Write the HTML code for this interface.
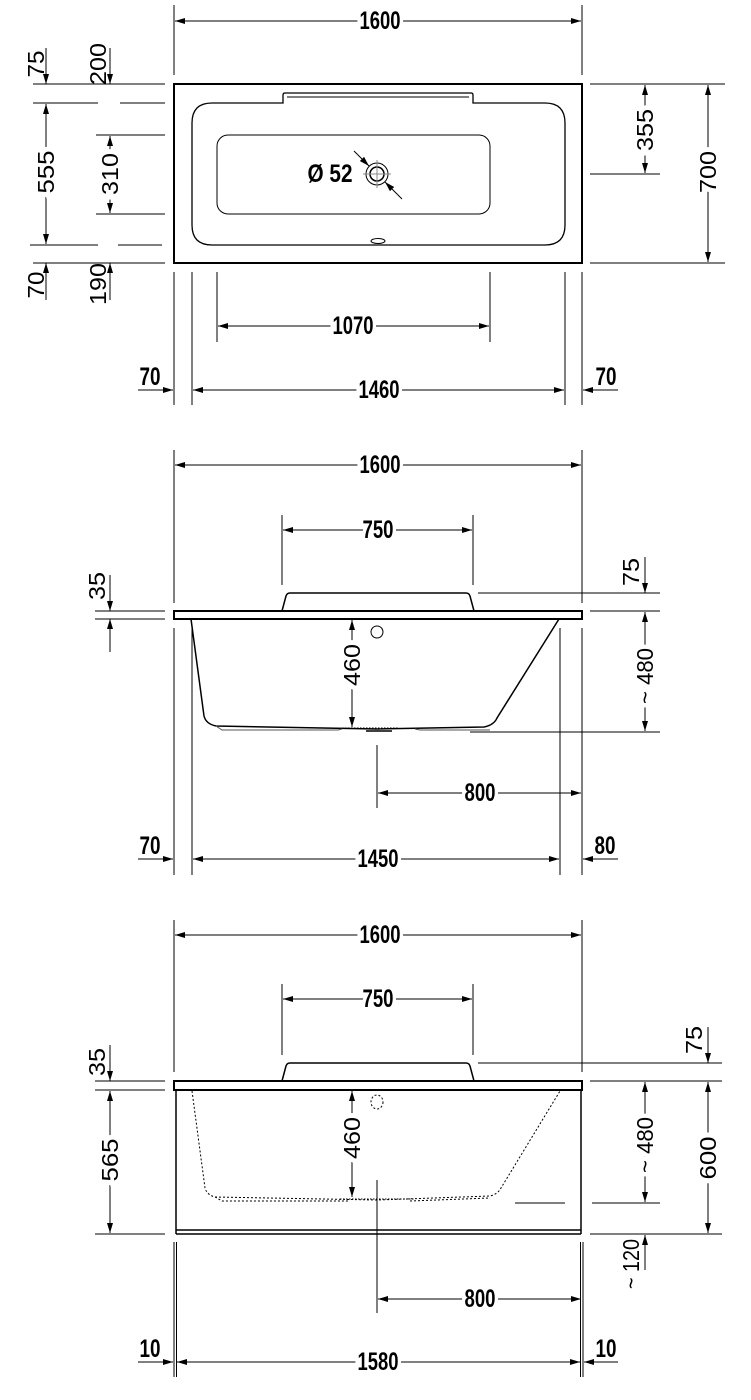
<!DOCTYPE html>
<html><head><meta charset="utf-8"><style>
html,body{margin:0;padding:0;background:#fff}
svg{display:block}
text{font-family:"Liberation Sans",sans-serif;font-size:25px;font-weight:bold;fill:#000;text-anchor:middle;dominant-baseline:central;stroke:#fff;stroke-width:9px;paint-order:stroke;}
text.r{font-size:23px;font-weight:normal}
.n{stroke:none}
</style></head><body>
<svg width="751" height="1400" viewBox="0 0 751 1400" xmlns="http://www.w3.org/2000/svg">
<defs>
<marker id="a" markerWidth="10" markerHeight="6" refX="10" refY="3" orient="auto-start-reverse" markerUnits="userSpaceOnUse"><path d="M0,0 L10,3 L0,6 Z" fill="#000"/></marker>
</defs>
<g stroke="#000" stroke-width="1" fill="none">
<line x1="174" y1="5" x2="174" y2="75"/><line x1="582" y1="5" x2="582" y2="75"/>
<line x1="175" y1="21" x2="581" y2="21" marker-start="url(#a)" marker-end="url(#a)"/>
<rect x="174" y="84" width="408" height="179" stroke-width="2"/>
<path d="M212,103 H283 V95 Q283,93 285,93 H471 Q473,93 473,95 V103 H545 Q565,103 565,123 V225 Q565,245 545,245 H212 Q192,245 192,225 V123 Q192,103 212,103 Z" stroke-width="1.3"/>
<line x1="287" y1="97" x2="469" y2="97"/>
<rect x="217" y="135" width="273" height="79" rx="11"/>
<circle cx="377" cy="174" r="11"/><circle cx="377" cy="174" r="7" stroke-width="1.5"/>
<line x1="363" y1="174" x2="391" y2="174" stroke="#888"/><line x1="377" y1="160" x2="377" y2="188" stroke="#888"/>
<line x1="354" y1="151" x2="369" y2="166" marker-end="url(#a)"/>
<line x1="402" y1="199" x2="385" y2="182" marker-end="url(#a)"/>
<ellipse cx="378" cy="241" rx="7" ry="2.5"/>
<line x1="33" y1="84" x2="165" y2="84"/>
<line x1="33" y1="103" x2="98" y2="103"/><line x1="120" y1="103" x2="165" y2="103"/>
<line x1="96" y1="135" x2="165" y2="135"/><line x1="96" y1="214" x2="165" y2="214"/>
<line x1="30" y1="245" x2="98" y2="245"/><line x1="118" y1="245" x2="162" y2="245"/>
<line x1="33" y1="263" x2="165" y2="263"/>
<line x1="46" y1="48" x2="46" y2="84" marker-end="url(#a)"/>
<line x1="110" y1="48" x2="110" y2="84" marker-end="url(#a)"/>
<line x1="46" y1="104" x2="46" y2="244" marker-start="url(#a)" marker-end="url(#a)"/>
<line x1="110" y1="136" x2="110" y2="213" marker-start="url(#a)" marker-end="url(#a)"/>
<line x1="46" y1="300" x2="46" y2="263" marker-end="url(#a)"/>
<line x1="110" y1="300" x2="110" y2="263" marker-end="url(#a)"/>
<line x1="590" y1="84" x2="725" y2="84"/><line x1="590" y1="263" x2="725" y2="263"/>
<line x1="590" y1="174" x2="660" y2="174"/>
<line x1="645" y1="85" x2="645" y2="173" marker-start="url(#a)" marker-end="url(#a)"/>
<line x1="708" y1="85" x2="708" y2="262" marker-start="url(#a)" marker-end="url(#a)"/>
<line x1="174" y1="272" x2="174" y2="405"/><line x1="192" y1="272" x2="192" y2="405"/>
<line x1="565" y1="272" x2="565" y2="405"/><line x1="582" y1="272" x2="582" y2="405"/>
<line x1="217" y1="272" x2="217" y2="342"/><line x1="490" y1="272" x2="490" y2="342"/>
<line x1="218" y1="326" x2="489" y2="326" marker-start="url(#a)" marker-end="url(#a)"/>
<line x1="193" y1="390" x2="564" y2="390" marker-start="url(#a)" marker-end="url(#a)"/>
<line x1="138" y1="390" x2="173" y2="390" marker-end="url(#a)"/>
<line x1="618" y1="390" x2="583" y2="390" marker-end="url(#a)"/>

<line x1="174" y1="450" x2="174" y2="603"/><line x1="582" y1="450" x2="582" y2="603"/>
<line x1="175" y1="465" x2="581" y2="465" marker-start="url(#a)" marker-end="url(#a)"/>
<line x1="282" y1="515" x2="282" y2="585"/><line x1="473" y1="515" x2="473" y2="585"/>
<line x1="283" y1="530" x2="472" y2="530" marker-start="url(#a)" marker-end="url(#a)"/>
<path d="M282,611 L286,596 Q287,593 290,593 H466 Q469,593 470,596 L474,611" stroke-width="1.5"/>
<rect x="174" y="611" width="408" height="8" stroke-width="2"/>
<path d="M191,619 L204,716 Q206,724 216,726 L377,729 L484,727 Q494,725 497,718 L559,619" stroke-width="1.5"/>
<path d="M216,726 L222,730 H338 L342,729 M415,729 L420,730 H490" stroke="#555"/>
<line x1="366" y1="731" x2="392" y2="731" stroke-width="1.5"/>
<line x1="342" y1="728" x2="398" y2="728" stroke-dasharray="1.5,1.5"/>
<circle cx="377" cy="632" r="6"/>
<line x1="95" y1="611" x2="165" y2="611"/><line x1="95" y1="619" x2="165" y2="619"/>
<line x1="110" y1="575" x2="110" y2="611" marker-end="url(#a)"/>
<line x1="110" y1="652" x2="110" y2="619" marker-end="url(#a)"/>
<line x1="352" y1="620" x2="352" y2="727" marker-start="url(#a)" marker-end="url(#a)"/>
<line x1="478" y1="593" x2="660" y2="593"/><line x1="590" y1="611" x2="660" y2="611"/>
<line x1="470" y1="732" x2="660" y2="732"/>
<line x1="645" y1="557" x2="645" y2="593" marker-end="url(#a)"/>
<line x1="645" y1="612" x2="645" y2="731" marker-start="url(#a)" marker-end="url(#a)"/>
<line x1="174" y1="628" x2="174" y2="875"/><line x1="192" y1="628" x2="192" y2="875"/>
<line x1="560" y1="628" x2="560" y2="875"/><line x1="582" y1="628" x2="582" y2="875"/>
<line x1="377" y1="745" x2="377" y2="808"/>
<line x1="378" y1="793" x2="581" y2="793" marker-start="url(#a)" marker-end="url(#a)"/>
<line x1="193" y1="859" x2="559" y2="859" marker-start="url(#a)" marker-end="url(#a)"/>
<line x1="138" y1="859" x2="173" y2="859" marker-end="url(#a)"/>
<line x1="618" y1="859" x2="583" y2="859" marker-end="url(#a)"/>

<line x1="174" y1="920" x2="174" y2="1072"/><line x1="582" y1="920" x2="582" y2="1072"/>
<line x1="175" y1="935" x2="581" y2="935" marker-start="url(#a)" marker-end="url(#a)"/>
<line x1="282" y1="984" x2="282" y2="1055"/><line x1="473" y1="984" x2="473" y2="1055"/>
<line x1="283" y1="999" x2="472" y2="999" marker-start="url(#a)" marker-end="url(#a)"/>
<path d="M282,1081 L286,1066 Q287,1063 290,1063 H466 Q469,1063 470,1066 L474,1081" stroke-width="1.5"/>
<rect x="174" y="1081" width="408" height="9" stroke-width="2"/>
<line x1="176" y1="1090" x2="176" y2="1234" stroke-width="1.5"/><line x1="581" y1="1090" x2="581" y2="1234" stroke-width="1.5"/>
<line x1="176" y1="1230" x2="581" y2="1230" stroke-width="1.5"/><line x1="176" y1="1234" x2="581" y2="1234" stroke-width="1.5"/>
<path d="M192,1091 L205,1188 Q207,1195 215,1197 L377,1200 L490,1196 Q498,1194 501,1188 L560,1091" stroke-dasharray="2,2"/>
<path d="M215,1197 L222,1201 H350 M410,1201 L490,1198" stroke-dasharray="2,2"/>
<line x1="340" y1="1199" x2="415" y2="1199" stroke-dasharray="1.5,1.5"/>
<ellipse cx="377" cy="1102" rx="6" ry="7" stroke-dasharray="2,2"/>
<line x1="95" y1="1081" x2="165" y2="1081"/><line x1="95" y1="1090" x2="165" y2="1090"/>
<line x1="95" y1="1234" x2="165" y2="1234"/>
<line x1="110" y1="1045" x2="110" y2="1081" marker-end="url(#a)"/>
<line x1="110" y1="1091" x2="110" y2="1233" marker-start="url(#a)" marker-end="url(#a)"/>
<line x1="352" y1="1091" x2="352" y2="1197" marker-start="url(#a)" marker-end="url(#a)"/>
<line x1="478" y1="1063" x2="722" y2="1063"/>
<line x1="590" y1="1081" x2="722" y2="1081"/>
<line x1="515" y1="1203" x2="565" y2="1203"/><line x1="592" y1="1203" x2="660" y2="1203"/>
<line x1="590" y1="1234" x2="722" y2="1234"/>
<line x1="708" y1="1027" x2="708" y2="1063" marker-end="url(#a)"/>
<line x1="645" y1="1082" x2="645" y2="1202" marker-start="url(#a)" marker-end="url(#a)"/>
<line x1="708" y1="1082" x2="708" y2="1233" marker-start="url(#a)" marker-end="url(#a)"/>
<line x1="645" y1="1270" x2="645" y2="1235" marker-end="url(#a)"/>
<line x1="377" y1="1180" x2="377" y2="1313"/>
<line x1="378" y1="1299" x2="581" y2="1299" marker-start="url(#a)" marker-end="url(#a)"/>
<line x1="174" y1="1242" x2="174" y2="1377"/><line x1="176.5" y1="1242" x2="176.5" y2="1377"/>
<line x1="580.5" y1="1242" x2="580.5" y2="1377"/><line x1="583" y1="1242" x2="583" y2="1377"/>
<line x1="177" y1="1362" x2="580" y2="1362" marker-start="url(#a)" marker-end="url(#a)"/>
<line x1="138" y1="1362" x2="173" y2="1362" marker-end="url(#a)"/>
<line x1="618" y1="1362" x2="584" y2="1362" marker-end="url(#a)"/>
</g>

<text x="380" y="21" textLength="41" lengthAdjust="spacingAndGlyphs">1600</text>
<text class="n r" transform="translate(36,64) rotate(-90)" textLength="27" lengthAdjust="spacingAndGlyphs">75</text>
<text class="n r" transform="translate(98,64) rotate(-90)" textLength="42" lengthAdjust="spacingAndGlyphs">200</text>
<text class="r" transform="translate(46,172) rotate(-90)" textLength="43" lengthAdjust="spacingAndGlyphs">555</text>
<text class="r" transform="translate(110,174) rotate(-90)" textLength="42" lengthAdjust="spacingAndGlyphs">310</text>
<text class="n r" transform="translate(36,285) rotate(-90)" textLength="27" lengthAdjust="spacingAndGlyphs">70</text>
<text class="n r" transform="translate(98,284) rotate(-90)" textLength="42" lengthAdjust="spacingAndGlyphs">190</text>
<text class="r" transform="translate(645,130) rotate(-90)" textLength="42" lengthAdjust="spacingAndGlyphs">355</text>
<text class="r" transform="translate(708,172) rotate(-90)" textLength="42" lengthAdjust="spacingAndGlyphs">700</text>
<text class="n" x="330" y="174" textLength="45" lengthAdjust="spacingAndGlyphs">Ø 52</text>
<text x="353" y="326" textLength="41" lengthAdjust="spacingAndGlyphs">1070</text>
<text x="379" y="390" textLength="41" lengthAdjust="spacingAndGlyphs">1460</text>
<text class="n" x="150" y="377" textLength="21" lengthAdjust="spacingAndGlyphs">70</text>
<text class="n" x="606" y="377" textLength="21" lengthAdjust="spacingAndGlyphs">70</text>

<text x="380" y="465" textLength="41" lengthAdjust="spacingAndGlyphs">1600</text>
<text x="378" y="530" textLength="31" lengthAdjust="spacingAndGlyphs">750</text>
<text class="n r" transform="translate(97,586) rotate(-90)" textLength="28" lengthAdjust="spacingAndGlyphs">35</text>
<text class="r" transform="translate(352,665) rotate(-90)" textLength="42" lengthAdjust="spacingAndGlyphs">460</text>
<text class="n r" transform="translate(631,572) rotate(-90)" textLength="28" lengthAdjust="spacingAndGlyphs">75</text>
<text class="r" transform="translate(645,676) rotate(-90)" textLength="56" lengthAdjust="spacingAndGlyphs">~ 480</text>
<text x="480" y="793" textLength="31" lengthAdjust="spacingAndGlyphs">800</text>
<text x="378" y="859" textLength="41" lengthAdjust="spacingAndGlyphs">1450</text>
<text class="n" x="150" y="846" textLength="21" lengthAdjust="spacingAndGlyphs">70</text>
<text class="n" x="605" y="846" textLength="21" lengthAdjust="spacingAndGlyphs">80</text>

<text x="380" y="935" textLength="41" lengthAdjust="spacingAndGlyphs">1600</text>
<text x="378" y="999" textLength="31" lengthAdjust="spacingAndGlyphs">750</text>
<text class="n r" transform="translate(97,1062) rotate(-90)" textLength="28" lengthAdjust="spacingAndGlyphs">35</text>
<text class="r" transform="translate(110,1160) rotate(-90)" textLength="43" lengthAdjust="spacingAndGlyphs">565</text>
<text class="r" transform="translate(352,1138) rotate(-90)" textLength="42" lengthAdjust="spacingAndGlyphs">460</text>
<text class="n r" transform="translate(694,1040) rotate(-90)" textLength="28" lengthAdjust="spacingAndGlyphs">75</text>
<text class="r" transform="translate(645,1145) rotate(-90)" textLength="56" lengthAdjust="spacingAndGlyphs">~ 480</text>
<text class="r" transform="translate(708,1158) rotate(-90)" textLength="43" lengthAdjust="spacingAndGlyphs">600</text>
<text class="n r" transform="translate(631,1264) rotate(-90)" textLength="50" lengthAdjust="spacingAndGlyphs">~ 120</text>
<text x="480" y="1299" textLength="31" lengthAdjust="spacingAndGlyphs">800</text>
<text x="378" y="1362" textLength="41" lengthAdjust="spacingAndGlyphs">1580</text>
<text class="n" x="150" y="1349" textLength="21" lengthAdjust="spacingAndGlyphs">10</text>
<text class="n" x="606" y="1349" textLength="21" lengthAdjust="spacingAndGlyphs">10</text>
</svg>
</body></html>
